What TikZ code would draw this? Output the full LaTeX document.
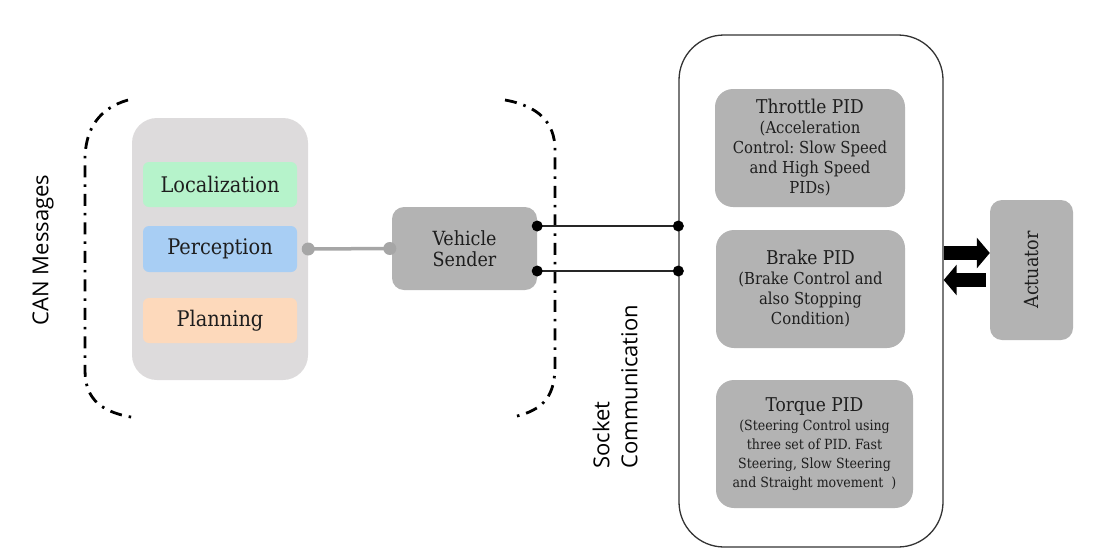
\documentclass[tikz,border=0pt]{standalone}
\usepackage{fontspec}
\setmainfont{DejaVu Serif Condensed}
\newfontfamily\labsans{Open Sans}
\usetikzlibrary{arrows.meta}
\frenchspacing
\definecolor{contgray}{HTML}{DDDBDC}
\definecolor{boxgray}{HTML}{B3B3B3}
\definecolor{locgreen}{HTML}{B6F3CB}
\definecolor{perblue}{HTML}{A8CEF4}
\definecolor{planpeach}{HTML}{FDD9BB}
\definecolor{linkgray}{HTML}{A6A6A6}
\definecolor{framegray}{HTML}{333333}
\definecolor{inktext}{HTML}{1E1E1E}
\tikzset{
  modbox/.style={rounded corners=6pt, minimum width=154pt, minimum height=45pt, inner sep=0pt, font=\fontsize{21.5}{24}\selectfont, text=inktext},
  pidbox/.style={fill=boxgray, rounded corners=18pt, inner sep=0pt, align=center, text=inktext, font=\fontsize{16.5}{20}\selectfont},
  pidtitle/.style={},
  bracket/.style={line width=2.8pt, dash pattern=on 12pt off 7pt on 2.5pt off 7pt},
  sidelabel/.style={rotate=90, font=\labsans\fontsize{22}{28}\selectfont, align=left},
  blackdot/.style={circle, fill=black, inner sep=0pt, minimum size=11pt},
  graydot/.style={circle, fill=linkgray, inner sep=0pt, minimum size=13pt},
  wire/.style={line width=1.3pt, draw=black!85},
  bigarrow/.style={line width=14pt, -{Triangle[length=13pt,width=30pt]}}
}
\newcommand{\pidhead}[1]{{\fontsize{19}{20}\selectfont #1}}
\begin{document}
\begin{tikzpicture}[x=1pt,y=-1pt]
\useasboundingbox (0,0) rectangle (1099,555);

% left group
\node[fill=contgray, rounded corners=25pt, minimum width=176pt, minimum height=262pt, inner sep=0pt] (cont) at (220,249) {};
\node[modbox, fill=locgreen] (loc) at (220,184.5) {Localization};
\node[modbox, fill=perblue, minimum height=46pt] (per) at (220,249) {Perception};
\node[modbox, fill=planpeach] (plan) at (220,320.5) {Planning};

\node[sidelabel] (can) at (43,250) {CAN Messages};

% brackets
\draw[bracket] (128,100) .. controls (100,108) and (85,128) .. (85,160) -- (85,370) .. controls (85,400) and (102,413) .. (137,418);
\draw[bracket] (505,100) .. controls (538,106) and (555,122) .. (555,150) -- (555,365) .. controls (555,395) and (545,410) .. (513,417);

% vehicle sender
\node[fill=boxgray, rounded corners=12pt, minimum width=145pt, minimum height=83pt, inner sep=0pt, align=center, text=inktext, font=\fontsize{19.5}{21}\selectfont] (vs) at (464.5,248.5) {Vehicle\\Sender};

\draw[linkgray, line width=3.5pt] (cont.east) -- (vs.west);
\node[graydot] (gd1) at (cont.east) {};
\node[graydot] (gd2) at ([xshift=-2pt]vs.west) {};

% controller frame
\node[draw=framegray, line width=1.3pt, rounded corners=45pt, minimum width=264pt, minimum height=512pt, inner sep=0pt] (ctrl) at (811,291) {};

\node[pidbox, minimum width=190pt, minimum height=118pt] (thr) at (810,148) {\pidhead{Throttle PID}\\(Acceleration\\Control: Slow Speed\\and High Speed\\PIDs)};
\node[pidbox, minimum width=189pt, minimum height=118pt] (brk) at (810.5,289) {\pidhead{Brake PID}\\(Brake Control and\\also Stopping\\Condition)};
\node[pidbox, minimum width=197pt, minimum height=128pt, font=\fontsize{14}{19}\selectfont] (trq) at (814.5,444) {\pidhead{Torque PID}\\(Steering Control using\\three set of PID. Fast\\Steering, Slow Steering\\and Straight movement~~)};

\node[fill=boxgray, rounded corners=12pt, minimum width=83pt, minimum height=140pt, inner sep=0pt] (act) at (1031.5,270) {};
\node[rotate=90, text=inktext, font=\fontsize{19.5}{20}\selectfont] (actlab) at (act.center) {Actuator};

% socket wires
\coordinate (w1s) at ([yshift=22.5pt]vs.east);
\coordinate (w2s) at ([yshift=-22.5pt]vs.east);
\coordinate (w1e) at (w1s -| ctrl.west);
\coordinate (w2e) at (w2s -| ctrl.west);
\draw[wire] (w1s) -- (w1e);
\draw[wire] (w2s) -- (w2e);
\node[blackdot] (d1) at (w1s) {};
\node[blackdot] (d2) at (w2s) {};
\node[blackdot] (d3) at (w1e) {};
\node[blackdot] (d4) at (w2e) {};

\node[sidelabel, anchor=south west] (sock) at (641,472) {Socket\\Communication};

% arrows between controller and actuator
\coordinate (a1e) at ([yshift=17pt]act.west);
\coordinate (a1s) at (a1e -| ctrl.east);
\draw[bigarrow] (a1s) -- (a1e);
\coordinate (a2s) at ([yshift=-10pt,xshift=-4pt]act.west);
\coordinate (a2e) at (a2s -| ctrl.east);
\draw[bigarrow] (a2s) -- (a2e);
\end{tikzpicture}
\end{document}
